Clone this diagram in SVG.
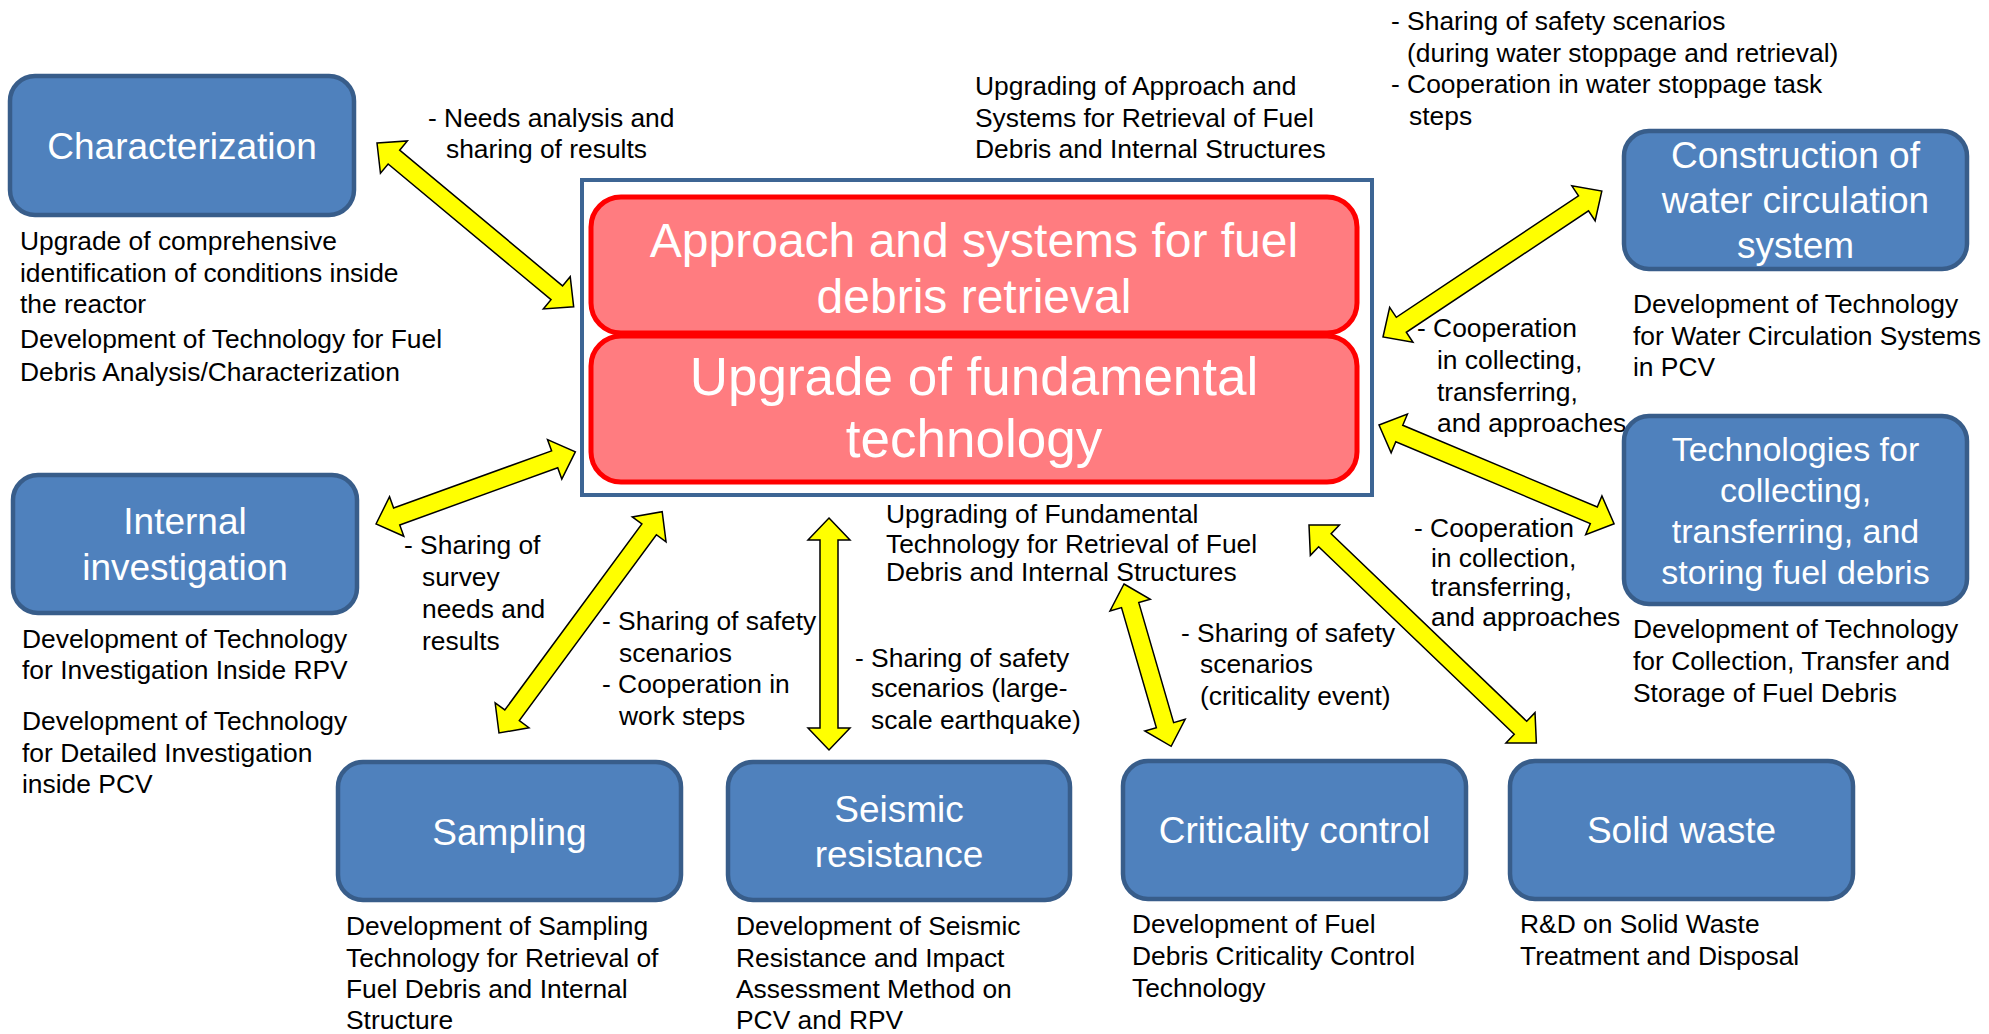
<svg xmlns="http://www.w3.org/2000/svg" width="1989" height="1034" viewBox="0 0 1989 1034">
<style>
text{font-family:"Liberation Sans",Arial,sans-serif}
.box{fill:#4f81bd;stroke:#385d8a;stroke-width:4.5}
.red{fill:#ff7c80;stroke:#ff0000;stroke-width:5}
.title{fill:#fff;font-size:37px;text-anchor:middle}
.t34{font-size:34px}
.big{fill:#fff;text-anchor:middle}
.lbl{fill:#000;font-size:26.4px}
.arr{fill:#ffff00;stroke:#000;stroke-width:1.5;stroke-linejoin:miter}
</style>
<rect width="1989" height="1034" fill="#fff"/>

<g id="connectors">
<path class="arr" transform="translate(377,143) rotate(39.8)" d="M0,0L22,-21L22,-9L234,-9L234,-21L256,0L234,21L234,9L22,9L22,21Z"/>
<path class="arr" transform="translate(376,524) rotate(-19.9)" d="M0,0L22,-21L22,-9L190,-9L190,-21L212,0L190,21L190,9L22,9L22,21Z"/>
<path class="arr" transform="translate(499,733) rotate(-53.6)" d="M0,0L22,-21L22,-9L253,-9L253,-21L275,0L253,21L253,9L22,9L22,21Z"/>
<path class="arr" transform="translate(829,518) rotate(90)" d="M0,0L22,-21L22,-9L210,-9L210,-21L232,0L210,21L210,9L22,9L22,21Z"/>
<path class="arr" transform="translate(1124,584) rotate(73.8)" d="M0,0L22,-21L22,-9L147,-9L147,-21L169,0L147,21L147,9L22,9L22,21Z"/>
<path class="arr" transform="translate(1309,525) rotate(43.8)" d="M0,0L22,-21L22,-9L293,-9L293,-21L315,0L293,21L293,9L22,9L22,21Z"/>
<path class="arr" transform="translate(1379,425) rotate(22.8)" d="M0,0L22,-21L22,-9L233,-9L233,-21L255,0L233,21L233,9L22,9L22,21Z"/>
<path class="arr" transform="translate(1383,337) rotate(-33.7)" d="M0,0L22,-21L22,-9L241,-9L241,-21L263,0L241,21L241,9L22,9L22,21Z"/>
</g>

<g id="labels" class="lbl">
<text class="lbl"><tspan x="428" y="127">- Needs analysis and</tspan><tspan x="446" y="158">sharing of results</tspan></text>
<text class="lbl"><tspan x="1391" y="30">- Sharing of safety scenarios</tspan><tspan x="1407" y="62">(during water stoppage and retrieval)</tspan><tspan x="1391" y="93">- Cooperation in water stoppage task</tspan><tspan x="1409" y="125">steps</tspan></text>
<text class="lbl"><tspan x="975" y="95">Upgrading of Approach and</tspan><tspan x="975" y="127">Systems for Retrieval of Fuel</tspan><tspan x="975" y="158">Debris and Internal Structures</tspan></text>
<text class="lbl"><tspan x="1417" y="337">- Cooperation</tspan><tspan x="1437" y="369">in collecting,</tspan><tspan x="1437" y="401">transferring,</tspan><tspan x="1437" y="432">and approaches</tspan></text>
<text class="lbl"><tspan x="1414" y="537">- Cooperation</tspan><tspan x="1431" y="567">in collection,</tspan><tspan x="1431" y="596">transferring,</tspan><tspan x="1431" y="626">and approaches</tspan></text>
<text class="lbl"><tspan x="404" y="554">- Sharing of</tspan><tspan x="422" y="586">survey</tspan><tspan x="422" y="618">needs and</tspan><tspan x="422" y="650">results</tspan></text>
<text class="lbl"><tspan x="602" y="630">- Sharing of safety</tspan><tspan x="619" y="662">scenarios</tspan><tspan x="602" y="693">- Cooperation in</tspan><tspan x="619" y="725">work steps</tspan></text>
<text class="lbl"><tspan x="855" y="667">- Sharing of safety</tspan><tspan x="871" y="697">scenarios (large-</tspan><tspan x="871" y="729">scale earthquake)</tspan></text>
<text class="lbl"><tspan x="886" y="523">Upgrading of Fundamental</tspan><tspan x="886" y="553">Technology for Retrieval of Fuel</tspan><tspan x="886" y="581">Debris and Internal Structures</tspan></text>
<text class="lbl"><tspan x="1181" y="642">- Sharing of safety</tspan><tspan x="1200" y="673">scenarios</tspan><tspan x="1200" y="705">(criticality event)</tspan></text>
</g>

<g id="center">
<rect x="582" y="180" width="790" height="315" fill="#fff" stroke="#3d6594" stroke-width="4"/>
<rect class="red" x="591" y="197" width="766" height="136" rx="30"/>
<text class="big" font-size="48"><tspan x="974" y="257">Approach and systems for fuel</tspan><tspan x="974" y="313">debris retrieval</tspan></text>
<rect class="red" x="591" y="336" width="766" height="146" rx="30"/>
<text class="big" font-size="53"><tspan x="974" y="395">Upgrade of fundamental</tspan><tspan x="974" y="457">technology</tspan></text>
</g>

<g id="characterization">
<rect class="box" x="10" y="76" width="344" height="139" rx="25"/>
<text class="title" x="182" y="159">Characterization</text>
<text class="lbl"><tspan x="20" y="250">Upgrade of comprehensive</tspan><tspan x="20" y="282">identification of conditions inside</tspan><tspan x="20" y="313">the reactor</tspan><tspan x="20" y="348">Development of Technology for Fuel</tspan><tspan x="20" y="381">Debris Analysis/Characterization</tspan></text>
</g>

<g id="internal-investigation">
<rect class="box" x="13" y="475" width="344" height="138" rx="25"/>
<text class="title"><tspan x="185" y="534">Internal</tspan><tspan x="185" y="580">investigation</tspan></text>
<text class="lbl"><tspan x="22" y="648">Development of Technology</tspan><tspan x="22" y="679">for Investigation Inside RPV</tspan><tspan x="22" y="730">Development of Technology</tspan><tspan x="22" y="762">for Detailed Investigation</tspan><tspan x="22" y="793">inside PCV</tspan></text>
</g>

<g id="water-circulation">
<rect class="box" x="1624" y="131" width="343" height="138" rx="25"/>
<text class="title"><tspan x="1795.5" y="168">Construction of</tspan><tspan x="1795.5" y="213">water circulation</tspan><tspan x="1795.5" y="258">system</tspan></text>
<text class="lbl"><tspan x="1633" y="313">Development of Technology</tspan><tspan x="1633" y="345">for Water Circulation Systems</tspan><tspan x="1633" y="376">in PCV</tspan></text>
</g>

<g id="collecting-transferring">
<rect class="box" x="1624" y="416" width="343" height="188" rx="25"/>
<text class="title t34"><tspan x="1795.5" y="461">Technologies for</tspan><tspan x="1795.5" y="502">collecting,</tspan><tspan x="1795.5" y="543">transferring, and</tspan><tspan x="1795.5" y="584">storing fuel debris</tspan></text>
<text class="lbl"><tspan x="1633" y="638">Development of Technology</tspan><tspan x="1633" y="670">for Collection, Transfer and</tspan><tspan x="1633" y="702">Storage of Fuel Debris</tspan></text>
</g>

<g id="sampling">
<rect class="box" x="338" y="762" width="343" height="138" rx="25"/>
<text class="title" x="509.5" y="845">Sampling</text>
<text class="lbl"><tspan x="346" y="935">Development of Sampling</tspan><tspan x="346" y="967">Technology for Retrieval of</tspan><tspan x="346" y="998">Fuel Debris and Internal</tspan><tspan x="346" y="1029">Structure</tspan></text>
</g>

<g id="seismic">
<rect class="box" x="728" y="762" width="342" height="138" rx="25"/>
<text class="title"><tspan x="899" y="822">Seismic</tspan><tspan x="899" y="867">resistance</tspan></text>
<text class="lbl"><tspan x="736" y="935">Development of Seismic</tspan><tspan x="736" y="967">Resistance and Impact</tspan><tspan x="736" y="998">Assessment Method on</tspan><tspan x="736" y="1029">PCV and RPV</tspan></text>
</g>

<g id="criticality">
<rect class="box" x="1123" y="761" width="343" height="138" rx="25"/>
<text class="title" x="1294.5" y="843">Criticality control</text>
<text class="lbl"><tspan x="1132" y="933">Development of Fuel</tspan><tspan x="1132" y="965">Debris Criticality Control</tspan><tspan x="1132" y="997">Technology</tspan></text>
</g>

<g id="solid-waste">
<rect class="box" x="1510" y="761" width="343" height="138" rx="25"/>
<text class="title" x="1681.5" y="843">Solid waste</text>
<text class="lbl"><tspan x="1520" y="933">R&amp;D on Solid Waste</tspan><tspan x="1520" y="965">Treatment and Disposal</tspan></text>
</g>
</svg>
